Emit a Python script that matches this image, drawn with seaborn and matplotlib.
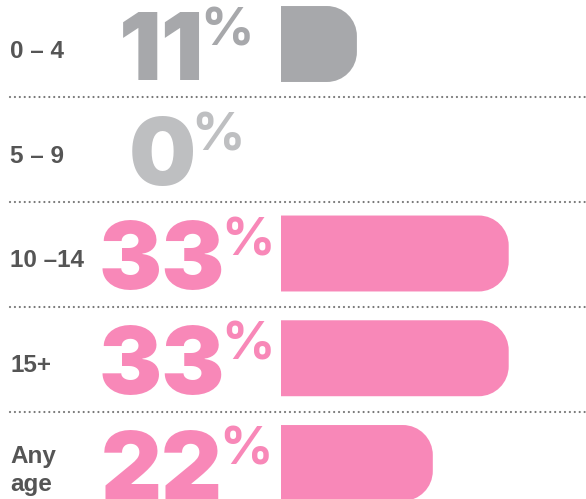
import matplotlib
matplotlib.use("Agg")
import matplotlib.pyplot as plt
import seaborn as sns
import pandas as pd
from matplotlib.path import Path
from matplotlib.patches import PathPatch
import matplotlib.transforms as mtransforms

# Data
age_groups = ["0 – 4", "5 – 9", "10 –14", "15+", "Any\nage"]
percentages = [11, 0, 33, 33, 22]
bar_colors = ["#a7a8ab", "#bebfc1", "#f888b8", "#f888b8", "#f888b8"]

sns.set_theme(style="white")
plt.rcParams['font.family'] = ['Inter', 'DejaVu Sans']

W, H = 586, 499
fig = plt.figure(figsize=(W / 100, H / 100), dpi=100)
ax = fig.add_axes([0, 0, 1, 1])

df = pd.DataFrame({"group": age_groups, "pct": percentages})
BAR_H = 0.725
sns.barplot(data=df, x="pct", y="group", hue="group", palette=bar_colors,
            legend=False, width=BAR_H, saturation=1, orient="h", ax=ax)

# pixel mapping: bar origin at x=281px, ~6.9px per percent
PX_PER_PCT = 6.9
X0 = 281
ax.set_xlim(-X0 / PX_PER_PCT, (W - X0) / PX_PER_PCT)
ROW0, PITCH = 44, 104.75
ax.set_ylim((H - ROW0) / PITCH, -ROW0 / PITCH)
ax.axis("off")

# replace plain rectangles with bars rounded on the right end
R_PX = 30
rx = R_PX / PX_PER_PCT
ry = R_PX / PITCH
k = 0.5523
for bar in list(ax.patches):
    x, y = bar.get_x(), bar.get_y()
    w, h = bar.get_width(), bar.get_height()
    color = bar.get_facecolor()
    bar.set_visible(False)
    if w <= 0:
        continue
    r_x = min(rx, w)
    x1 = x + w
    verts = [
        (x, y), (x1 - r_x, y),
        (x1 - r_x + k * r_x, y), (x1, y + ry - k * ry), (x1, y + ry),
        (x1, y + h - ry),
        (x1, y + h - ry + k * ry), (x1 - r_x + k * r_x, y + h), (x1 - r_x, y + h),
        (x, y + h), (x, y),
    ]
    codes = [Path.MOVETO, Path.LINETO,
             Path.CURVE4, Path.CURVE4, Path.CURVE4,
             Path.LINETO,
             Path.CURVE4, Path.CURVE4, Path.CURVE4,
             Path.LINETO, Path.CLOSEPOLY]
    ax.add_patch(PathPatch(Path(verts, codes), facecolor=color, edgecolor="none"))

# dotted separators
for i in range(len(age_groups) - 1):
    ax.axhline(i + 0.51, xmin=10 / W, xmax=1, color="#777777", lw=1.6,
               linestyle=(0, (0.01, 2.2)), dash_capstyle="round")

trans = mtransforms.blended_transform_factory(fig.transFigure, ax.transData)
for i, (label, pct) in enumerate(zip(age_groups, percentages)):
    ax.text(10 / W, i + 0.07, label, transform=trans, ha="left", va="center",
            fontsize=17.5, fontweight="bold", color="#555555", linespacing=1.3,
            family=["Liberation Sans", "DejaVu Sans"])
    col = bar_colors[i]
    num = ax.text(162 / W, i + BAR_H / 2 - 0.02, f"{pct}", transform=trans,
                  ha="center", va="baseline", fontsize=68, fontweight=900,
                  color=col)
    ax.annotate("%", xy=(1, 1), xycoords=num, xytext=(-3, 3),
                textcoords="offset points", ha="left", va="top",
                fontsize=38, fontweight=700, color=col)

fig.savefig("out.png", dpi=100)
